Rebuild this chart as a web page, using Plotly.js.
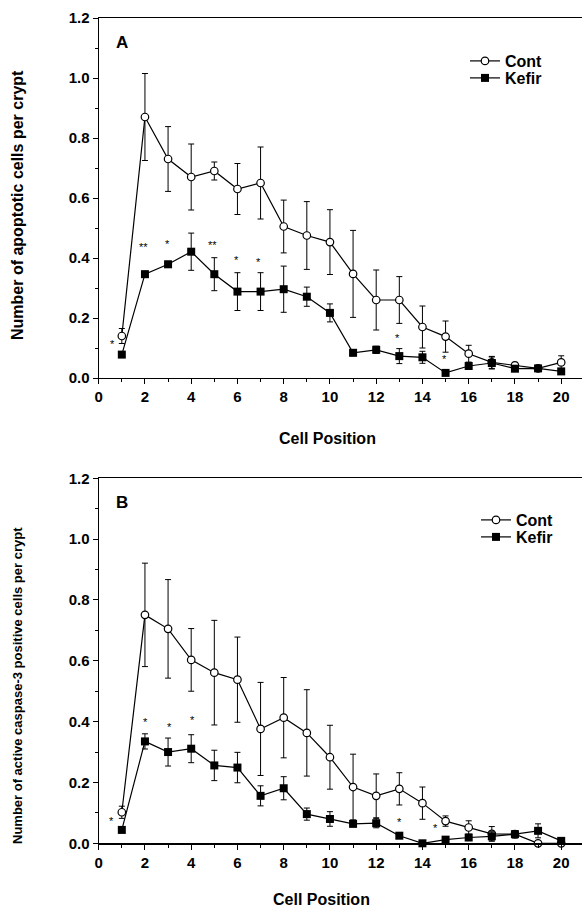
<!DOCTYPE html>
<html>
<head>
<meta charset="utf-8">
<script src="https://cdn.plot.ly/plotly-3.0.1.min.js"></script>
<style>html,body{margin:0;padding:0;background:#fff;}#chart{width:582px;height:909px;}</style>
</head>
<body>
<div id="chart"></div>
<script>
// ---- Data ----
const cellPosition = [1,2,3,4,5,6,7,8,9,10,11,12,13,14,15,16,17,18,19,20];

// Panel A: apoptotic cells per crypt
const apoCont     = [0.140,0.870,0.730,0.670,0.690,0.630,0.650,0.505,0.475,0.453,0.347,0.260,0.260,0.170,0.138,0.081,0.052,0.042,0.032,0.052];
const apoContErr  = [0.025,0.145,0.108,0.110,0.030,0.085,0.120,0.088,0.113,0.108,0.145,0.100,0.078,0.070,0.052,0.028,0.020,0.010,0.008,0.022];
const apoKefir    = [0.078,0.346,0.379,0.421,0.346,0.288,0.288,0.296,0.271,0.217,0.084,0.094,0.073,0.069,0.017,0.040,0.050,0.031,0.032,0.022];
const apoKefirErr = [0.008,0.010,0.010,0.062,0.055,0.063,0.063,0.077,0.032,0.030,0.010,0.012,0.025,0.020,0.006,0.008,0.020,0.008,0.010,0.006];

// Panel B: active caspase-3 positive cells per crypt
const casCont     = [0.102,0.751,0.705,0.603,0.561,0.538,0.376,0.413,0.363,0.283,0.185,0.156,0.179,0.132,0.073,0.052,0.031,0.030,0.000,0.000];
const casContErr  = [0.020,0.170,0.162,0.103,0.172,0.140,0.153,0.132,0.142,0.105,0.108,0.072,0.053,0.053,0.017,0.022,0.024,0.012,0.000,0.000];
const casKefir    = [0.044,0.335,0.300,0.311,0.256,0.249,0.156,0.181,0.096,0.080,0.064,0.066,0.025,0.000,0.012,0.019,0.023,0.030,0.041,0.008];
const casKefirErr = [0.005,0.025,0.046,0.046,0.050,0.050,0.033,0.038,0.020,0.024,0.010,0.015,0.006,0.000,0.006,0.008,0.015,0.012,0.023,0.005];

// Significance marks
const apoStarX = [0.59,1.93,2.98,4.93,5.94,6.93,12.94,14.94];
const apoStarY = [0.122,0.447,0.456,0.453,0.402,0.396,0.144,0.074];
const apoStarT = ['*','**','*','**','*','*','*','*'];
const casStarX = [0.54,2.02,3.05,4.05,13.01,14.56];
const casStarY = [0.084,0.410,0.393,0.414,0.080,0.060];
const casStarT = ['*','*','*','*','*','*'];

const seriesNames = ['Cont','Kefir'];
const panelLabels = ['A','B'];
const xTitle = 'Cell Position';
const yTitleA = 'Number of apoptotic cells per crypt';
const yTitleB = 'Number of active caspase-3 positive cells per crypt';

// ---- Styling ----
const FAM = 'Liberation Sans, Arial, Helvetica, sans-serif';
const W = 582, H = 909;
const px = v => v / W;
const py = v => 1 - v / H;

function mkTrace(y, err, name, isCont, xa, ya, legend){
  return {
    x: cellPosition, y: y, name: name, type: 'scatter', mode: 'lines+markers',
    xaxis: xa, yaxis: ya, legend: legend, cliponaxis: false,
    line: {color: '#000', width: 1.2},
    marker: isCont
      ? {symbol: 'circle', size: 7.5, color: '#fff', line: {color: '#000', width: 1.2}}
      : {symbol: 'square', size: 8, color: '#000', line: {color: '#000', width: 0}},
    error_y: {type: 'data', array: err, visible: true, color: '#000', thickness: 1, width: 3}
  };
}

const data = [
  mkTrace(apoCont, apoContErr, seriesNames[0], true, 'x', 'y', 'legend'),
  mkTrace(apoKefir, apoKefirErr, seriesNames[1], false, 'x', 'y', 'legend2'),
  mkTrace(casCont, casContErr, seriesNames[0], true, 'x2', 'y2', 'legend3'),
  mkTrace(casKefir, casKefirErr, seriesNames[1], false, 'x2', 'y2', 'legend4')
];

const tickFont = {family: FAM, size: 15, color: '#000', weight: 'bold'};
function xAxis(anchor){
  return {
    anchor: anchor, domain: [px(98.7), 1], range: [0, 20.9],
    tick0: 0, dtick: 2, ticks: 'outside', ticklen: 5, tickwidth: 1, tickcolor: '#000',
    minor: {dtick: 1, ticks: 'outside', ticklen: 3, tickwidth: 1, tickcolor: '#000', showgrid: false},
    showline: true, linecolor: '#000', linewidth: 1.2, mirror: true,
    showgrid: false, zeroline: false, tickfont: tickFont, fixedrange: true
  };
}
function yAxis(anchor, dom){
  return {
    anchor: anchor, domain: dom, range: [0, 1.2],
    tick0: 0, dtick: 0.2, tickformat: '.1f', ticks: 'outside', ticklen: 5, tickwidth: 1, tickcolor: '#000',
    minor: {dtick: 0.1, ticks: 'outside', ticklen: 3, tickwidth: 1, tickcolor: '#000', showgrid: false},
    showline: true, linecolor: '#000', linewidth: 1.2,
    showgrid: false, zeroline: false, tickfont: tickFont, fixedrange: true
  };
}

function ann(xref, yref, x, y, text, font, extra){
  return Object.assign({xref: xref, yref: yref, x: x, y: y, text: text, showarrow: false,
    xanchor: 'center', yanchor: 'middle', font: font}, extra || {});
}

const starFont = {family: FAM, size: 11, color: '#000'};
const annotations = [];
apoStarX.forEach((x, i) => annotations.push(ann('x', 'y', x, apoStarY[i], apoStarT[i], starFont, {yshift: -3})));
casStarX.forEach((x, i) => annotations.push(ann('x2', 'y2', x, casStarY[i], casStarT[i], starFont, {yshift: -3})));

const labelFont = {family: FAM, size: 17, color: '#000', weight: 'bold'};
annotations.push(ann('paper', 'paper', px(122), py(42), panelLabels[0], labelFont));
annotations.push(ann('paper', 'paper', px(122), py(502), panelLabels[1], labelFont));

const xtFont = {family: FAM, size: 16, color: '#000', weight: 'bold'};
annotations.push(ann('paper', 'paper', px(327), py(438), xTitle, xtFont));
annotations.push(ann('paper', 'paper', px(321), py(899), xTitle, xtFont));
annotations.push(ann('paper', 'paper', px(17), py(205), yTitleA,
  {family: FAM, size: 16, color: '#000', weight: 'bold'}, {textangle: -90}));
annotations.push(ann('paper', 'paper', px(17), py(686), yTitleB,
  {family: FAM, size: 13, color: '#000', weight: 'bold'}, {textangle: -90}));

const legFont = {family: FAM, size: 16, color: '#000', weight: 'bold'};
function leg(xPix, yPix){
  return {x: px(xPix), y: py(yPix), xanchor: 'left', yanchor: 'middle', bgcolor: 'rgba(0,0,0,0)', font: legFont, borderwidth: 0};
}
const layout = {
  width: W, height: H,
  margin: {l: 0, r: 0, t: 0, b: 0},
  paper_bgcolor: '#fff', plot_bgcolor: 'rgba(0,0,0,0)',
  showlegend: true,
  xaxis: xAxis('y'),
  yaxis: yAxis('x', [py(378), py(18)]),
  xaxis2: xAxis('y2'),
  yaxis2: yAxis('x2', [py(843.3), py(478.3)]),
  legend: leg(465, 61),
  legend2: leg(465, 78),
  legend3: leg(476, 520),
  legend4: leg(476, 537),
  annotations: annotations
};

Plotly.newPlot('chart', data, layout, {displayModeBar: false, staticPlot: true});
</script>
</body>
</html>
